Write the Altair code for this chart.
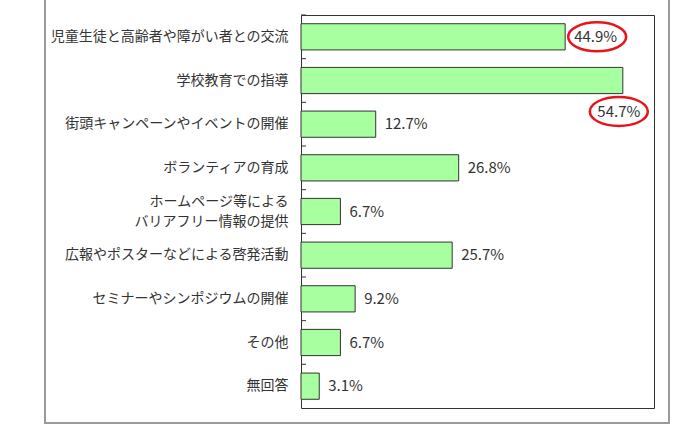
import altair as alt
import pandas as pd

categories = [
    "児童生徒と高齢者や障がい者との交流",
    "学校教育での指導",
    "街頭キャンペーンやイベントの開催",
    "ボランティアの育成",
    "ホームページ等による\nバリアフリー情報の提供",
    "広報やポスターなどによる啓発活動",
    "セミナーやシンポジウムの開催",
    "その他",
    "無回答",
]
values = [44.9, 54.7, 12.7, 26.8, 6.7, 25.7, 9.2, 6.7, 3.1]
labels = ["44.9%", "54.7%", "12.7%", "26.8%", "6.7%", "25.7%", "9.2%", "6.7%", "3.1%"]
highlight_right = ["児童生徒と高齢者や障がい者との交流"]
highlight_below = ["学校教育での指導"]

df = pd.DataFrame({"cat": categories, "val": values, "lbl": labels})

FONT = "Noto Sans CJK JP"
ELLIPSE = "M -1 0 A 1 0.5 0 1 1 1 0 A 1 0.5 0 1 1 -1 0 Z"
H = 393
STEP = H / len(categories)

yscale = alt.Scale(paddingInner=0.4, paddingOuter=0.2)
y = alt.Y("cat:N", sort=categories, scale=yscale, title=None,
          axis=alt.Axis(ticks=False, domain=False, labelPadding=13,
                        labelFont=FONT, labelFontSize=14, labelColor="#333333",
                        labelLimit=0, labelLineHeight=20,
                        labelOffset=alt.condition("indexof(datum.value, '\\n') >= 0",
                                                  alt.value(-10), alt.value(0)),
                        labelExpr="split(datum.label, '\\n')"))
x = alt.X("val:Q", scale=alt.Scale(domain=[0, 60]), axis=None, title=None)

base = alt.Chart(df)

frame = alt.Chart(pd.DataFrame({"a": [0]})).mark_rect(
    fill=None, stroke="#9a9a9a", strokeWidth=2
).encode(x=alt.value(-256), x2=alt.value(368), y=alt.value(-30), y2=alt.value(408))

bars = base.mark_bar(fill="#a8ffa0", stroke="#333333", strokeWidth=1).encode(y=y, x=x)

ticks = base.mark_rule(color="#333333", strokeWidth=1, yOffset=-0.2 * STEP).encode(
    y=alt.Y("cat:N", sort=categories, scale=yscale, bandPosition=0),
    x=alt.value(0), x2=alt.value(5))

not_below = ~alt.FieldOneOfPredicate(field="cat", oneOf=highlight_below)
is_below = alt.FieldOneOfPredicate(field="cat", oneOf=highlight_below)
is_right = alt.FieldOneOfPredicate(field="cat", oneOf=highlight_right)

normal_text = base.transform_filter(not_below).mark_text(
    align="left", baseline="middle", dx=9, font=FONT, fontSize=15, color="#333333"
).encode(y=y, x=x, text="lbl:N")

below_text = base.transform_filter(is_below).mark_text(
    align="center", baseline="middle", dx=-4, dy=31, font=FONT, fontSize=15, color="#333333"
).encode(y=y, x=x, text="lbl:N")

ell_right = base.transform_filter(is_right).mark_point(
    shape=ELLIPSE, size=3364, filled=False, stroke="#e8141c",
    strokeWidth=2.5, opacity=1, xOffset=32
).encode(y=y, x=x)

ell_below = base.transform_filter(is_below).mark_point(
    shape=ELLIPSE, size=3364, filled=False, stroke="#e8141c",
    strokeWidth=2.5, opacity=1, xOffset=-4, yOffset=31
).encode(y=y, x=x)

chart = alt.layer(frame, bars, ticks, normal_text, below_text, ell_right, ell_below).properties(
    width=353, height=H,
    autosize=alt.AutoSizeParams(type="none"),
    padding={"left": 301, "top": 15, "right": 36, "bottom": 33},
    background="white",
).configure_view(stroke="#333333", strokeWidth=1)

chart.save("out.html", embed_options={"renderer": "svg", "actions": False})
